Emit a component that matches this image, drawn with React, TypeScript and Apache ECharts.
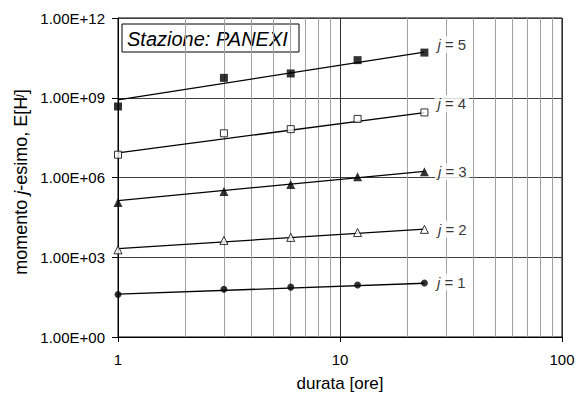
import React, { useEffect, useRef } from "react";
import * as echarts from "echarts";

const xValues = [1, 3, 6, 12, 24];
const j1Values = [40, 63, 75, 90, 107];
const j2Values = [1900, 4300, 5600, 8500, 11200];
const j3Values = [1.15e5, 3.0e5, 5.5e5, 1.07e6, 1.65e6];
const j4Values = [7.2e6, 4.6e7, 6.6e7, 1.6e8, 2.8e8];
const j5Values = [4.7e8, 5.6e9, 8.2e9, 2.6e10, 5.0e10];

const trendX = [1, 24];
const trend1 = [41, 105];
const trend2 = [2100, 11500];
const trend3 = [1.35e5, 1.7e6];
const trend4 = [8.5e6, 2.75e8];
const trend5 = [8.3e8, 5.2e10];

const minorGridX = [2, 3, 4, 5, 6, 7, 8, 9, 20, 30, 40, 50, 60, 70, 80, 90];
const yTickLabels = ["1.00E+00", "1.00E+03", "1.00E+06", "1.00E+09", "1.00E+12"];
const xTickLabels = ["1", "10", "100"];
const seriesNames = ["1", "2", "3", "4", "5"];

const FONT = "'Liberation Sans', Arial, sans-serif";

export default function App() {
  const ref = useRef<HTMLDivElement>(null);
  useEffect(() => {
    if (!ref.current) return;
    const chart = echarts.init(ref.current, null, { renderer: "svg" });

    const pointSets = [j1Values, j2Values, j3Values, j4Values, j5Values];
    const trendSets = [trend1, trend2, trend3, trend4, trend5];
    const symbols = [
      { symbol: "circle", size: 7, fill: "#000" },
      { symbol: "triangle", size: 8, fill: "#fff" },
      { symbol: "triangle", size: 9, fill: "#000" },
      { symbol: "rect", size: 7, fill: "#fff" },
      { symbol: "rect", size: 8, fill: "#000" },
    ];
    const labelOffsets = [-1, 0, 0, -9, -8];

    const series: any[] = [
      {
        type: "line",
        data: [],
        z: 1,
        silent: true,
        markLine: {
          z: 1,
          silent: true,
          symbol: "none",
          label: { show: false },
          lineStyle: { color: "#a0a0a0", width: 1, type: "solid" },
          data: minorGridX.map((x) => ({ xAxis: x })),
        },
      },
    ];

    trendSets.forEach((t, i) => {
      series.push({
        type: "line",
        name: "trend" + seriesNames[i],
        data: trendX.map((x, k) => [x, t[k]]),
        showSymbol: false,
        symbol: "none",
        lineStyle: { color: "#000", width: 1.3 },
        z: 3,
        silent: true,
      });
    });

    pointSets.forEach((vals, i) => {
      const s = symbols[i];
      series.push({
        type: "scatter",
        name: "j" + seriesNames[i],
        symbol: s.symbol,
        symbolSize: s.size,
        itemStyle: { color: s.fill, borderColor: "#000", borderWidth: s.fill === "#fff" ? 1 : 0 },
        z: 4,
        data: xValues.map((x, k) => {
          const item: any = { value: [x, vals[k]] };
          if (k === xValues.length - 1) {
            item.label = {
              show: true,
              position: "right",
              distance: 6,
              offset: [0, labelOffsets[i]],
              formatter: "{i|j} = " + seriesNames[i],
              color: "#000",
              fontFamily: FONT,
              fontSize: 15,
              backgroundColor: "#fff",
              padding: [1, 3, 1, 3],
              rich: {
                i: { fontStyle: "italic", fontFamily: FONT, fontSize: 15, color: "#000" },
              },
            };
          }
          return item;
        }),
      });
    });

    chart.setOption({
      animation: false,
      backgroundColor: "#fff",
      grid: {
        left: 118,
        right: 16,
        top: 18,
        bottom: 59,
        outerBoundsMode: "none",
        containLabel: false,
        show: true,
        borderColor: "#000",
        borderWidth: 1,
        backgroundColor: "transparent",
      },
      xAxis: {
        type: "log",
        logBase: 10,
        min: 1,
        max: 100,
        interval: 1,
        axisLine: { show: true, lineStyle: { color: "#000", width: 1 } },
        axisTick: { show: true, length: 5, lineStyle: { color: "#000" } },
        axisLabel: {
          color: "#000",
          fontFamily: FONT,
          fontSize: 15,
          margin: 15,
          formatter: (_v: number, idx: number) => xTickLabels[idx] ?? "",
        },
        splitLine: { show: true, lineStyle: { color: "#303030", width: 1 } },
        name: "durata [ore]",
        nameLocation: "middle",
        nameGap: 38,
        nameTextStyle: { color: "#000", fontFamily: FONT, fontSize: 17 },
      },
      yAxis: {
        type: "log",
        logBase: 10,
        min: 1,
        max: 1e12,
        interval: 3,
        axisLine: { show: true, lineStyle: { color: "#000", width: 1 } },
        axisTick: { show: true, length: 6, lineStyle: { color: "#000" } },
        axisLabel: {
          color: "#000",
          fontFamily: FONT,
          fontSize: 15,
          margin: 13,
          formatter: (_v: number, idx: number) => yTickLabels[idx] ?? "",
        },
        splitLine: { show: true, lineStyle: { color: "#404040", width: 1 } },
      },
      graphic: [
        {
          type: "text",
          x: 21,
          y: 182,
          rotation: Math.PI / 2,
          style: {
            text: "{n|momento }{i|j}{n|-esimo, E[H}{s|j}{n|]}",
            align: "center",
            verticalAlign: "middle",
            fill: "#000",
            font: "18px " + FONT,
            rich: {
              n: { fontFamily: FONT, fontSize: 18, fill: "#000" },
              i: { fontFamily: FONT, fontSize: 18, fontStyle: "italic", fill: "#000" },
              s: { fontFamily: FONT, fontSize: 11, fontStyle: "italic", fill: "#000", verticalAlign: "top", padding: [0, 0, 7, 0] },
            },
          },
        },
        {
          type: "group",
          z: 10,
          children: [
            {
              type: "rect",
              shape: { x: 122, y: 24, width: 177, height: 28 },
              style: { fill: "#fff", stroke: "#000", lineWidth: 1 },
            },
            {
              type: "text",
              x: 127,
              y: 38.5,
              style: {
                text: "Stazione: PANEXI",
                fill: "#000",
                font: "italic 20px " + FONT,
                verticalAlign: "middle",
              },
            },
          ],
        },
      ],
      series,
    });

    return () => chart.dispose();
  }, []);

  return <div ref={ref} style={{ position: "fixed", left: 0, top: 0, width: 578, height: 396 }} />;
}
